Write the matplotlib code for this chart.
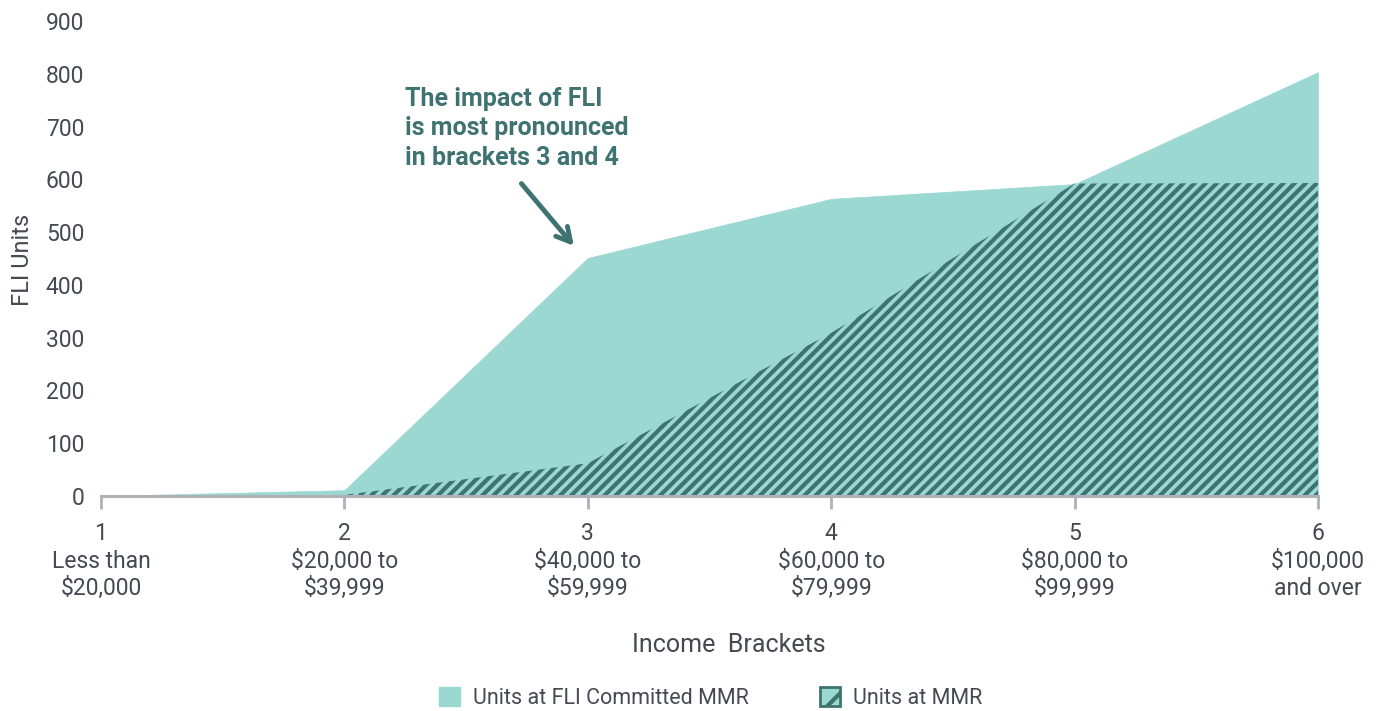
import numpy as np
import matplotlib
matplotlib.use("Agg")
import matplotlib.pyplot as plt
from matplotlib.patches import Patch

brackets = [1, 2, 3, 4, 5, 6]
bracket_names = ["Less than\n$20,000", "$20,000 to\n$39,999", "$40,000 to\n$59,999",
                 "$60,000 to\n$79,999", "$80,000 to\n$99,999", "$100,000\nand over"]
fli_committed = [0, 11, 451, 563, 591, 803]
mmr_units = [0, 2, 62, 309, 592, 593]

light = "#9bd8d2"
dark = "#3e7372"
text_col = "#454a52"

plt.rcParams["font.family"] = ["Roboto", "DejaVu Sans"]
plt.rcParams["hatch.linewidth"] = 3.0

fig = plt.figure(figsize=(13.83, 7.11), dpi=100)
ax = fig.add_axes([0.0730, 0.3024, 0.8800, 0.6681])

ax.fill_between(brackets, fli_committed, 0, facecolor=light, edgecolor=light, linewidth=0.5)
ax.fill_between(brackets, mmr_units, 0, facecolor=light, edgecolor=dark, hatch="///", linewidth=0)

ax.set_xlim(1, 6)
ax.set_ylim(0, 900)
ax.set_yticks(np.arange(0, 901, 100))
ax.set_xticks(brackets)
ax.set_xticklabels([str(b) for b in brackets], fontsize=16.5, color=text_col)
ax.tick_params(axis="y", length=0, labelsize=16.5, labelcolor=text_col, pad=12)
ax.tick_params(axis="x", direction="out", length=9, width=2, color="#aeb1b5", pad=10)

# bracket ranges under the tick numbers
for b, name in zip(brackets, bracket_names):
    ax.text(b, -0.113, name, transform=ax.get_xaxis_transform(), ha="center", va="top",
            fontsize=16.5, color=text_col, linespacing=1.25)

for side in ["left", "right", "top"]:
    ax.spines[side].set_visible(False)
ax.spines["bottom"].set_color("#aeb1b5")
ax.spines["bottom"].set_linewidth(2.2)

fig.text(0.527, 0.093, "Income  Brackets", ha="center", va="center", fontsize=18, color=text_col)
fig.text(0.016, 0.634, "FLI Units", rotation=90, ha="center", va="center", fontsize=17, color=text_col)

ax.text(2.249, 775, "The impact of FLI\nis most pronounced\nin brackets 3 and 4",
        ha="left", va="top", fontsize=18, fontweight="bold", color=dark, linespacing=1.28)
ax.annotate("", xy=(2.95, 470), xytext=(2.72, 596),
            arrowprops=dict(arrowstyle="->,head_length=1.0,head_width=0.55", color=dark, lw=3.5))

handles = [Patch(facecolor=light, edgecolor=light, label="Units at FLI Committed MMR"),
           Patch(facecolor=light, edgecolor=dark, hatch="/", linewidth=2, label="Units at MMR")]
fig.legend(handles=handles, loc="center", bbox_to_anchor=(0.514, 0.018), ncol=2, frameon=False,
           fontsize=15.5, labelcolor=text_col, handlelength=0.95, handleheight=0.95,
           columnspacing=3.3, handletextpad=0.6)

fig.savefig("out.png", dpi=100)
